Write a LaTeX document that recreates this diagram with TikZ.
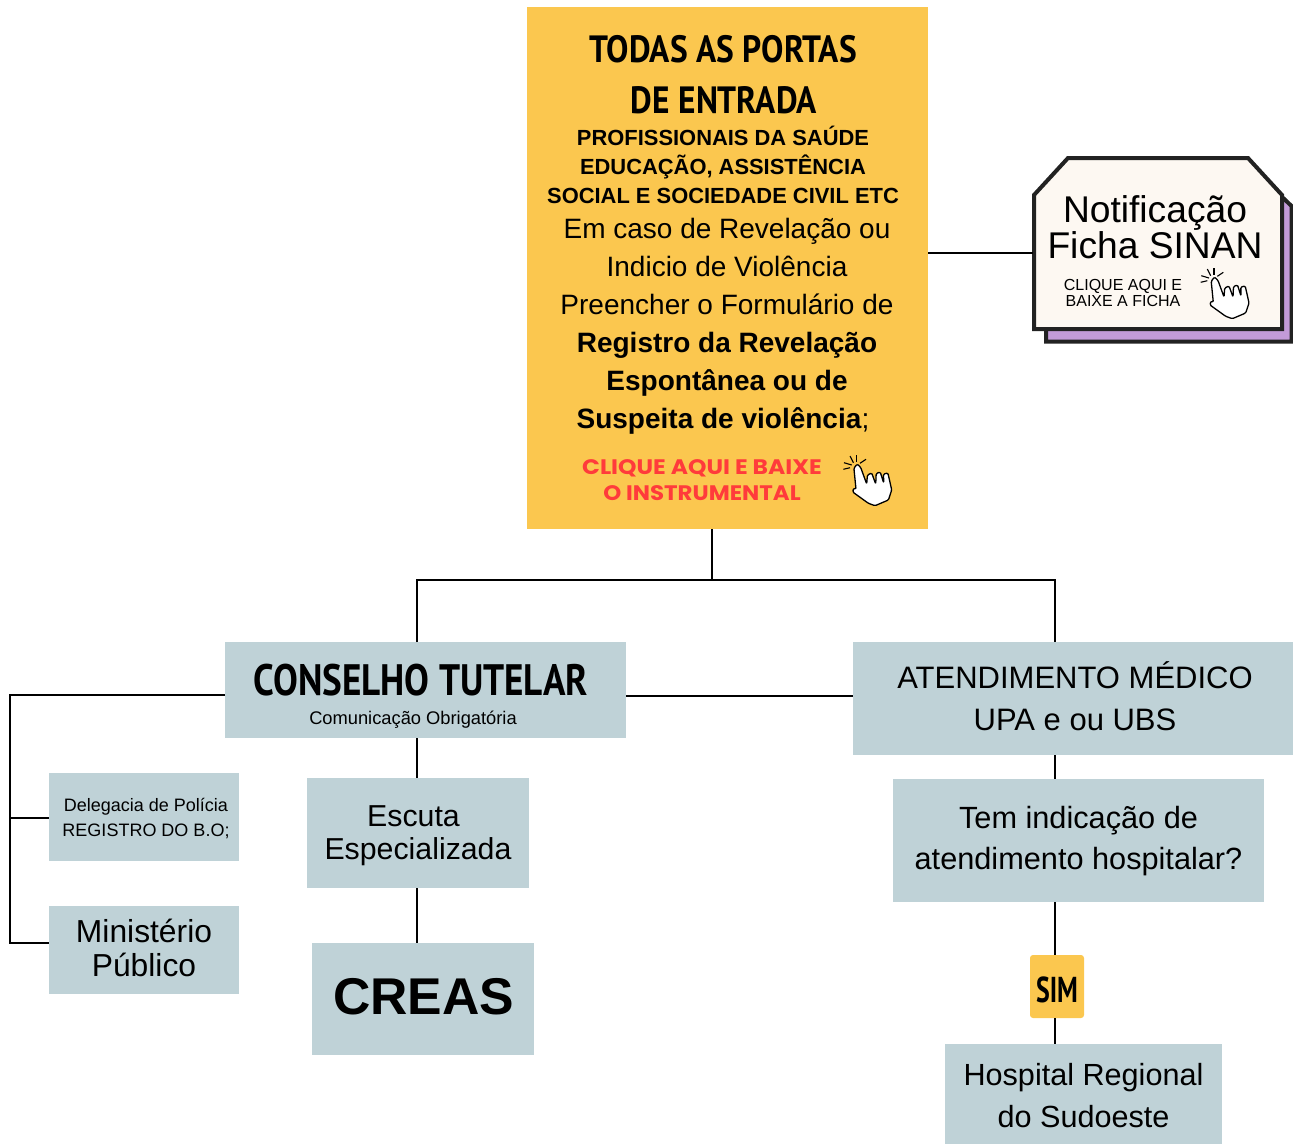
\documentclass[tikz,border=0pt]{standalone}
\usepackage{fontspec}
\setmainfont{Liberation Sans}
\newfontfamily\clickfont{Poppins}
\newfontfamily\handfont{PT Sans}
\usetikzlibrary{positioning}

\definecolor{boxblue}{HTML}{BFD2D7}
\definecolor{boxyellow}{HTML}{FBC74F}
\definecolor{cardcream}{HTML}{FDF8F2}
\definecolor{cardpurple}{HTML}{C39BD8}
\definecolor{cardline}{HTML}{222222}
\definecolor{clickred}{HTML}{FF3B3B}

\newcommand{\fsize}[2]{\fontsize{#1pt}{#2pt}\selectfont}
\newcommand{\brush}[3]{{\handfont\bfseries\fsize{#1}{#1}\scalebox{#2}[1]{#3}}}

\tikzset{ hand/.pic={
            \draw [fill=white, line width=1.3pt, rounded corners=1.2pt, line join=round]
              (-1.7,24.3) -- (-3.8,3.3) -- (-.5,-1) -- (3,2.5) -- (9,19) -- (9.7,10)
              -- (14,8) -- (18,19) -- (18.5,8.5) -- (22.5,7) -- (26,18) -- (25.8,9)
              -- (30.2,8) -- (34,25) -- (30.7,35) -- (17.3,40.7) -- (10.7,38.3) -- (-5,27) -- (-4,23) -- cycle;
            \foreach \ax/\ay/\bx/\by in {-13.7/-2.3/-6/0, -7.7/-9/-4.3/-2.3, -1/-10/-1/-3.3, 8.3/-5.7/2.3/-1.7, -14.3/4.3/-7.7/2.7}
              \draw [line width=1.1pt] (\ax,\ay) -- (\bx,\by);
          }
        }

\begin{document}
\begin{tikzpicture} [ x=1pt
                    , y=-1pt
                    , line width=2pt
                    , flat/.style={inner sep=0pt, outer sep=0pt, align=center, text=black}
                    , bluebox/.style={flat, fill=boxblue}
                    , yellowbox/.style={flat, fill=boxyellow}
                    , link/.style={draw=black, line width=2pt}
                    ]

  \useasboundingbox (0,0) rectangle (1293,1144);

  % --- Entry box -------------------------------------------------------------
  \node [ yellowbox
        , minimum width=401pt
        , minimum height=522pt
        ]
        (Portas) at (727.5,268) {};

  \node [flat] (PortasA) at (723,49) {\brush{38}{.88}{TODAS AS PORTAS}};
  \node [flat] (PortasB) at (724,100) {\brush{38}{.88}{DE ENTRADA}};

  \node [ flat
        , font=\bfseries\fsize{21.9}{29}
        ]
        (Profissionais) at (723,165)
        {PROFISSIONAIS DA SAÚDE\\EDUCAÇÃO, ASSISTÊNCIA\\SOCIAL E SOCIEDADE CIVIL ETC};

  \node [ flat
        , font=\fsize{28}{38}
        ]
        (Formulario) at (727,326)
        {Em caso de Revelação ou\\Indicio de Violência\\Preencher o Formulário de\\
         \textbf{Registro da Revelação}\\\textbf{Espontânea ou de}\\\textbf{Suspeita de violência};\hspace*{8pt}};

  \node [ flat
        , text=clickred
        , font=\clickfont\bfseries\fsize{21}{26}
        ]
        (Clique) at (702,480) {\scalebox{1.117}[1]{CLIQUE AQUI E BAIXE}\\\scalebox{1.09}[1]{O INSTRUMENTAL}};

  \pic at (857.7,465) {hand};
  % ---------------------------------------------------------------------------

  % --- SINAN card ------------------------------------------------------------
  \draw [fill=cardpurple, draw=cardline, line width=4pt]
    (1046,329) -- (1046,341.5) -- (1291.5,341.5) -- (1291.5,206) -- (1280,195) -- cycle;
  \draw [fill=cardcream, draw=cardline, line width=4pt]
    (1068,158) -- (1248,158) -- (1282,195) -- (1282,329) -- (1034,329) -- (1034,195) -- cycle;

  \node [flat, font=\fsize{37.2}{36}] (Sinan) at (1155,227) {Notificação\\Ficha SINAN};
  \node [flat, font=\fsize{16}{16}] (SinanClique) at (1123,293) {CLIQUE AQUI E\\BAIXE A FICHA};
  \coordinate (SinanIn) at (1033,253);

  \pic at (1215,278) {hand};
  % ---------------------------------------------------------------------------

  % --- Conselho Stack --------------------------------------------------------
  \node [ bluebox
        , minimum width=401pt
        , minimum height=96pt
        ]
        (Conselho) at (425.5,690) {};

  \node [flat] (ConselhoT) at (421,680) {\brush{44}{.844}{CONSELHO TUTELAR}};
  \node [flat, font=\fsize{18.3}{19}] (ConselhoC) at (413,720) {Comunicação Obrigatória};

  \node [ bluebox
        , minimum width=222pt
        , minimum height=110pt
        , below=40pt of Conselho
        , xshift=-7.5pt
        ]
        (Escuta) {};

  \node [ flat
        , font=\fsize{30.3}{33}
        , yshift=-3pt
        ]
        (EscutaT) at (Escuta) {Escuta\hspace*{9pt}\\Especializada};

  \node [ bluebox
        , minimum width=222pt
        , minimum height=112pt
        , below=55pt of Escuta
        , xshift=5pt
        ]
        (Creas) {};

  \node [ flat
        , font=\bfseries\fsize{51.7}{52}
        , yshift=2pt
        , xshift=.5pt
        ]
        (CreasT) at (Creas) {CREAS};

  \node [ bluebox
        , minimum width=190pt
        , minimum height=88pt
        , below=35pt of Conselho
        , xshift=-281.5pt
        ]
        (Delegacia) {};

  \node [ flat
        , font=\fsize{18}{25}
        , xshift=2pt
        , yshift=-2pt
        ]
        (DelegaciaT) at (Delegacia) {Delegacia de Polícia\\REGISTRO DO B.O;};

  \node [ bluebox
        , minimum width=190pt
        , minimum height=88pt
        , below=45pt of Delegacia
        ]
        (Ministerio) {};

  \node [ flat
        , font=\fsize{31.8}{34}
        , yshift=2pt
        ]
        (MinisterioT) at (Ministerio) {Ministério\\Público};
  % ---------------------------------------------------------------------------

  % --- Atendimento Stack -----------------------------------------------------
  \node [ bluebox
        , minimum width=440pt
        , minimum height=113pt
        , right=227pt of Conselho
        , yshift=-8.5pt
        ]
        (Atendimento) {};

  \node [ flat
        , font=\fsize{31}{42}
        , xshift=2pt
        , yshift=2pt
        ]
        (AtendimentoT) at (Atendimento) {ATENDIMENTO MÉDICO\\UPA e ou UBS};

  \node [ bluebox
        , minimum width=371pt
        , minimum height=123pt
        , below=24pt of Atendimento
        , xshift=5.5pt
        ]
        (Indicacao) {};

  \node [ flat
        , font=\fsize{30.7}{41}
        , yshift=-1pt
        ]
        (IndicacaoT) at (Indicacao) {Tem indicação de\\atendimento hospitalar?};

  \node [ yellowbox
        , rounded corners=3pt
        , minimum width=54pt
        , minimum height=63pt
        , below=53pt of Indicacao
        , xshift=-21.5pt
        ]
        (Sim) {};

  \node [flat, yshift=-3pt] (SimT) at (Sim) {\brush{36}{.72}{SIM}};

  \node [ bluebox
        , minimum width=277pt
        , minimum height=100pt
        , below=26pt of Sim
        , xshift=26.5pt
        ]
        (Hospital) {};

  \node [ flat
        , font=\fsize{30.6}{42}
        , yshift=-2pt
        ]
        (HospitalT) at (Hospital) {Hospital Regional\\do Sudoeste};
  % ---------------------------------------------------------------------------

  % --- Connectors ------------------------------------------------------------
  \coordinate (Split) at (712,580);
  \coordinate (SplitL) at (417,580);
  \coordinate (SplitR) at (1055,580);
  \coordinate (Middle) at (740,696);
  \coordinate (BusTop) at (10,695);
  \coordinate (BusDel) at (10,818);
  \coordinate (BusMin) at (10,943);
  \coordinate (Down) at (1054.5,900);

  \draw [link] (Portas.east |- SinanIn) -- (SinanIn);
  \draw [link] (Portas.south -| Split) -- (Split);
  \draw [link] (SplitL |- Conselho.north) -- (SplitL) -- (SplitR) -- (SplitR |- Atendimento.north);
  \draw [link] (SplitL |- Conselho.south) -- (SplitL |- Escuta.north);
  \draw [link] (SplitL |- Escuta.south) -- (SplitL |- Creas.north);
  \draw [link] (Conselho.east |- Middle) -- (Atendimento.west |- Middle);
  \draw [link] (Conselho.west |- BusTop) -- (BusTop) -- (BusMin) -- (Ministerio.west |- BusMin);
  \draw [link] (BusDel) -- (Delegacia.west |- BusDel);
  \draw [link] (Down |- Atendimento.south) -- (Down |- Indicacao.north);
  \draw [link] (Down |- Indicacao.south) -- (Down |- Sim.north);
  \draw [link] (Down |- Sim.south) -- (Down |- Hospital.north);
  % ---------------------------------------------------------------------------
\end{tikzpicture}
\end{document}
